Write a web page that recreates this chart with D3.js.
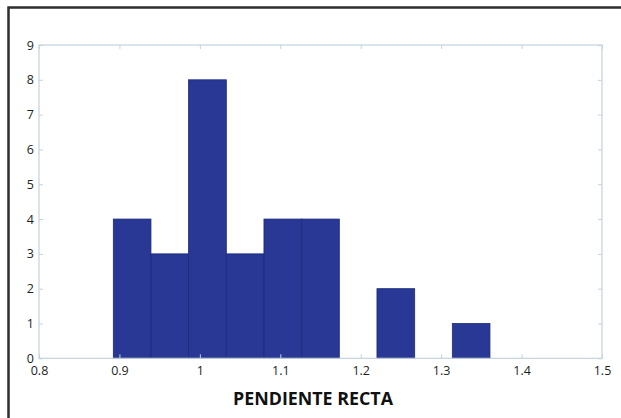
<!DOCTYPE html>
<html>
<head>
<meta charset="utf-8">
<script src="https://cdn.jsdelivr.net/npm/d3@7"></script>
<style>
  html, body { margin: 0; padding: 0; background: #fff; }
  svg { display: block; }
</style>
</head>
<body>
<svg id="chart" width="621" height="418"></svg>
<script>
// Histogram of line slopes: 10 equal bins between the sample minimum and maximum
const binEdges = [0.8924, 0.9392, 0.9860, 1.0329, 1.0797, 1.1266, 1.1734, 1.2202, 1.2671, 1.3139, 1.3607];
const counts   = [4, 3, 8, 3, 4, 4, 0, 2, 0, 1];
const xTicks   = [0.8, 0.9, 1.0, 1.1, 1.2, 1.3, 1.4, 1.5];
const yTicks   = [0, 1, 2, 3, 4, 5, 6, 7, 8, 9];
const xLabel   = "PENDIENTE RECTA";

const svg = d3.select("#chart");
const W = 621, H = 418;
const plotLeft = 39, plotRight = 602, plotTop = 45, plotBottom = 358.3;

const x = d3.scaleLinear().domain([0.8, 1.5]).range([plotLeft, plotRight]);
const y = d3.scaleLinear().domain([0, 9]).range([plotBottom, plotTop]);

const axisColor = "#c3d3de";
const textColor = "#1e1e1e";
const font = "'Open Sans', 'Noto Sans', sans-serif";

// outer frame
svg.append("rect")
  .attr("x", 8.5).attr("y", 7.5)
  .attr("width", W).attr("height", H)
  .attr("fill", "none")
  .attr("stroke", "#2e2e2e")
  .attr("stroke-width", 2.5);

// bars
const bins = counts.map((c, i) => ({ x0: binEdges[i], x1: binEdges[i + 1], n: c }));
svg.append("g").selectAll("rect")
  .data(bins.filter(d => d.n > 0))
  .join("rect")
  .attr("x", d => x(d.x0))
  .attr("y", d => y(d.n))
  .attr("width", d => x(d.x1) - x(d.x0))
  .attr("height", d => y(0) - y(d.n))
  .attr("fill", "#283894")
  .attr("stroke", "#1b2a7c")
  .attr("stroke-width", 0.8);

function styleAxis(g) {
  g.select(".domain").remove();
  g.selectAll(".tick line").attr("stroke", axisColor).attr("stroke-width", 1);
  g.selectAll(".tick text")
    .attr("fill", textColor)
    .style("font-family", font)
    .style("font-size", "12.5px");
}

// bottom axis with inward ticks
svg.append("g")
  .attr("transform", `translate(0,${plotBottom})`)
  .call(d3.axisBottom(x).tickValues(xTicks).tickSize(-4).tickPadding(8)
        .tickFormat(d => d3.format("")(+d.toFixed(1))))
  .call(styleAxis);

// left axis with inward ticks
svg.append("g")
  .attr("transform", `translate(${plotLeft},0)`)
  .call(d3.axisLeft(y).tickValues(yTicks).tickSize(-4).tickPadding(5))
  .call(styleAxis);

// top and right axes: ticks only
svg.append("g")
  .attr("transform", `translate(0,${plotTop})`)
  .call(d3.axisTop(x).tickValues(xTicks).tickSize(-4).tickFormat(""))
  .call(styleAxis);
svg.append("g")
  .attr("transform", `translate(${plotRight},0)`)
  .call(d3.axisRight(y).tickValues(yTicks).tickSize(-4).tickFormat(""))
  .call(styleAxis);

// axes box
svg.append("rect")
  .attr("x", plotLeft).attr("y", plotTop)
  .attr("width", plotRight - plotLeft).attr("height", plotBottom - plotTop)
  .attr("fill", "none")
  .attr("stroke", axisColor)
  .attr("stroke-width", 1.2);

// x-axis title
svg.append("text")
  .attr("x", 313).attr("y", 405)
  .attr("text-anchor", "middle")
  .attr("fill", "#111")
  .style("font-family", font)
  .style("font-weight", "bold")
  .style("font-size", "18px")
  .attr("textLength", 160)
  .attr("lengthAdjust", "spacingAndGlyphs")
  .text(xLabel);
</script>
</body>
</html>
